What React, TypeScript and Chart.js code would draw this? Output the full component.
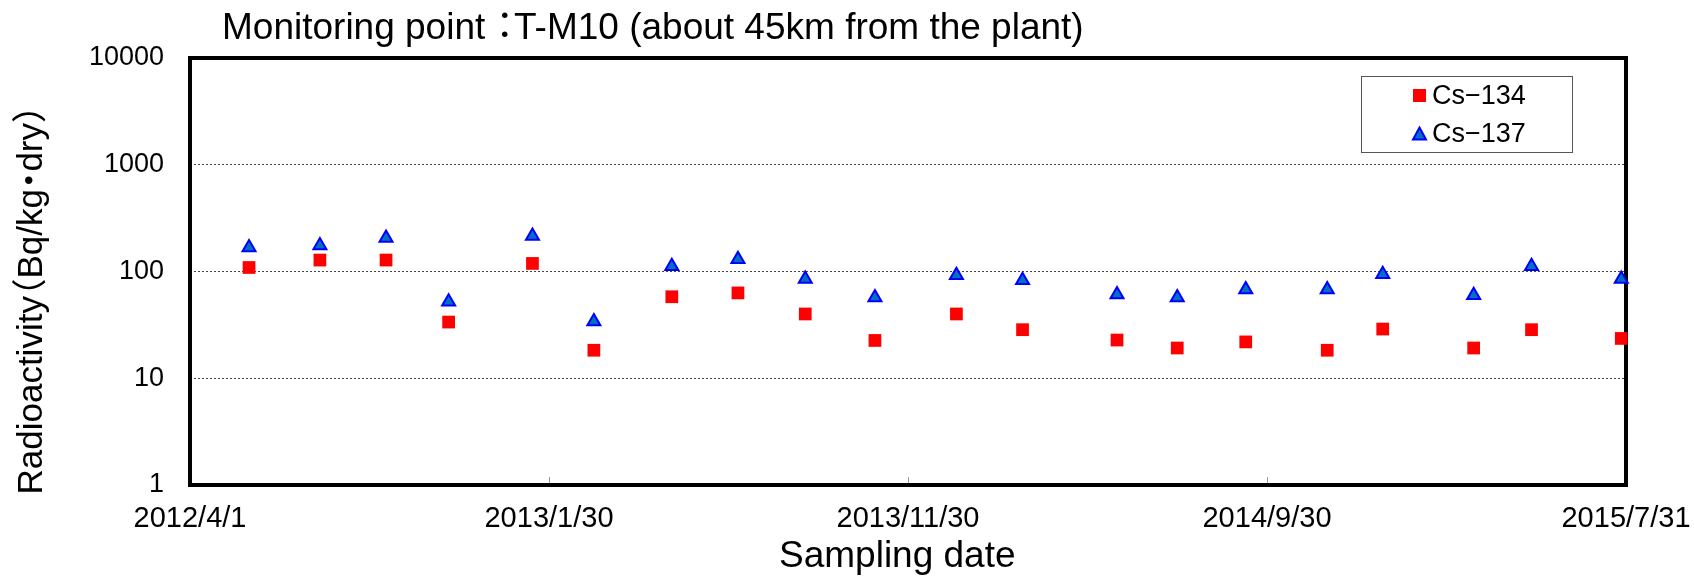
import React, { useEffect, useRef } from "react";
import { Chart, registerables } from "chart.js";

Chart.register(...registerables);

// ---- data ----
const chartTitle = "Monitoring point ：T-M10 (about 45km from the plant)";
const yAxisTitle = "Radioactivity（Bq/kg・dry）";
const xAxisTitle = "Sampling date";
const seriesLabels = ["Cs−134", "Cs−137"];

const xTickDates = ["2012/4/1", "2013/1/30", "2013/11/30", "2014/9/30", "2015/7/31"];
const yTickValues = [1, 10, 100, 1000, 10000];

const samplingDates = [
  "2012/5/21", "2012/7/20", "2012/9/14", "2012/11/6", "2013/1/16",
  "2013/3/9", "2013/5/14", "2013/7/9", "2013/9/4", "2013/11/2",
  "2014/1/10", "2014/3/7", "2014/5/26", "2014/7/16", "2014/9/12",
  "2014/11/20", "2015/1/6", "2015/3/24", "2015/5/12", "2015/7/27",
];
const cs134 = [109, 128, 128, 33.6, 119, 18.3, 58, 63, 40, 22.6, 40, 28.5, 22.8, 19.2, 21.9, 18.3, 28.9, 19.2, 28.5, 23.6];
const cs137 = [168, 175, 206, 52, 215, 34, 112, 130, 85, 57, 92, 83, 61, 57, 68, 68, 94, 60, 112, 85];

// ---- helpers ----
const FONT = "'Liberation Sans', Arial, 'Noto Sans CJK JP', sans-serif";
const W = 1694;
const H = 578;

function dayOffset(d: string): number {
  const [y, m, dd] = d.split("/").map(Number);
  const [y0, m0, d0] = xTickDates[0].split("/").map(Number);
  return Math.round((Date.UTC(y, m - 1, dd) - Date.UTC(y0, m0 - 1, d0)) / 86400000);
}

// draws text with proportional (half-width) spacing for full-width punctuation
function drawCompact(ctx: CanvasRenderingContext2D, text: string, x: number, y: number, size: number, align: "left" | "center") {
  type Piece = { s: string; wide: boolean };
  const pieces: Piece[] = [];
  for (const ch of text) {
    const wide = ch.charCodeAt(0) >= 0x3000;
    const last = pieces[pieces.length - 1];
    if (!wide && last && !last.wide) last.s += ch;
    else pieces.push({ s: ch, wide });
  }
  const adv = (p: Piece) => (p.wide ? 0.5 * size : ctx.measureText(p.s).width);
  const total = pieces.reduce((a, p) => a + adv(p), 0);
  let cx = align === "center" ? x - total / 2 : x;
  const prevAlign = ctx.textAlign;
  ctx.textAlign = "left";
  pieces.forEach((p) => {
    if (p.wide) {
      const shift = p.s === "（" ? -0.5 : p.s === "）" ? 0 : -0.25;
      ctx.fillText(p.s, cx + shift * size, y);
    } else {
      ctx.fillText(p.s, cx, y);
    }
    cx += adv(p);
  });
  ctx.textAlign = prevAlign;
}

const decorPlugin = {
  id: "decor",
  beforeDatasetsDraw(chart: any) {
    const { ctx, chartArea } = chart;
    const xs = chart.scales.x;
    ctx.save();
    // inner tick marks on the bottom axis
    ctx.strokeStyle = "#999";
    ctx.lineWidth = 1;
    xs.ticks.forEach((t: any, i: number) => {
      if (i === 0 || i === xs.ticks.length - 1) return;
      const px = Math.round(xs.getPixelForValue(t.value)) + 0.5;
      ctx.beginPath();
      ctx.moveTo(px, chartArea.bottom);
      ctx.lineTo(px, chartArea.bottom - 8);
      ctx.stroke();
    });
    // plot border
    ctx.strokeStyle = "#000";
    ctx.lineWidth = 4;
    ctx.strokeRect(chartArea.left, chartArea.top, chartArea.right - chartArea.left, chartArea.bottom - chartArea.top);
    ctx.restore();
  },
  afterDraw(chart: any) {
    const { ctx } = chart;
    ctx.save();
    ctx.fillStyle = "#000";
    ctx.textBaseline = "alphabetic";
    // title
    ctx.font = `37px ${FONT}`;
    drawCompact(ctx, chartTitle, 222, 39, 37, "left");
    // x title
    ctx.font = `37px ${FONT}`;
    ctx.textAlign = "left";
    ctx.fillText(xAxisTitle, 779, 567);
    // y title
    ctx.save();
    ctx.translate(32, 300);
    ctx.rotate(-Math.PI / 2);
    ctx.textBaseline = "middle";
    ctx.font = `35px ${FONT}`;
    drawCompact(ctx, yAxisTitle, 0, 0, 35, "center");
    ctx.restore();
    // legend
    ctx.strokeStyle = "#555";
    ctx.lineWidth = 1;
    ctx.strokeRect(1361.5, 76.5, 211, 76);
    const rows = [95.5, 133.5];
    chart.data.datasets.forEach((ds: any, i: number) => {
      const cy = rows[i];
      ctx.fillStyle = ds.backgroundColor;
      ctx.strokeStyle = ds.borderColor;
      if (ds.pointStyle === "rect") {
        ctx.fillRect(1413, cy - 6.5, 13, 13);
      } else {
        ctx.lineWidth = 2;
        ctx.beginPath();
        ctx.moveTo(1419.5, cy - 6);
        ctx.lineTo(1426, cy + 6);
        ctx.lineTo(1413, cy + 6);
        ctx.closePath();
        ctx.fill();
        ctx.stroke();
      }
      ctx.fillStyle = "#000";
      ctx.font = `27px ${FONT}`;
      ctx.textAlign = "left";
      ctx.textBaseline = "middle";
      ctx.fillText(ds.label, 1432, cy + 1);
    });
    ctx.restore();
  },
};

export default function App() {
  const canvasRef = useRef<HTMLCanvasElement | null>(null);

  useEffect(() => {
    const canvas = canvasRef.current;
    if (!canvas) return;
    const xs = samplingDates.map(dayOffset);
    const chart = new Chart(canvas, {
      type: "scatter",
      data: {
        datasets: [
          {
            label: seriesLabels[0],
            data: xs.map((x, i) => ({ x, y: cs134[i] })),
            pointStyle: "rect",
            pointRadius: 9,
            pointHoverRadius: 9,
            backgroundColor: "#FF0000",
            borderColor: "#FF0000",
            borderWidth: 0,
            showLine: false,
            clip: false as any,
          },
          {
            label: seriesLabels[1],
            data: xs.map((x, i) => ({ x, y: cs137[i] })),
            pointStyle: "triangle",
            pointRadius: 7.5,
            pointHoverRadius: 7.5,
            backgroundColor: "#0070C0",
            borderColor: "#0000FF",
            borderWidth: 2,
            showLine: false,
            clip: false as any,
          },
        ],
      },
      options: {
        responsive: false,
        animation: false,
        devicePixelRatio: 1,
        layout: { padding: { left: 0, top: 58, right: 68, bottom: 0 } },
        plugins: {
          legend: { display: false },
          title: { display: false },
          tooltip: { enabled: false },
        },
        scales: {
          x: {
            type: "linear",
            min: 0,
            max: dayOffset(xTickDates[xTickDates.length - 1]),
            afterBuildTicks: (s: any) => {
              s.ticks = xTickDates.map((d) => ({ value: dayOffset(d) }));
            },
            afterFit: (s: any) => {
              s.height = H - 485;
              s.paddingLeft = 0;
              s.paddingRight = 0;
            },
            ticks: {
              autoSkip: false,
              maxRotation: 0,
              minRotation: 0,
              padding: 17,
              color: "#000",
              font: { family: FONT, size: 29 },
              callback: (_v: any, i: number) => xTickDates[i],
            },
            grid: { display: false, drawTicks: false },
            border: { display: false },
          },
          y: {
            type: "logarithmic",
            min: 1,
            max: 10000,
            afterBuildTicks: (s: any) => {
              s.ticks = yTickValues.map((v) => ({ value: v }));
            },
            afterFit: (s: any) => {
              s.width = 190;
              s.paddingTop = 0;
              s.paddingBottom = 0;
            },
            ticks: {
              padding: 26,
              color: "#000",
              font: { family: FONT, size: 27 },
              callback: (v: any) => String(v),
            },
            grid: {
              drawTicks: false,
              lineWidth: 1,
              color: (c: any) =>
                c.tick && (c.tick.value === yTickValues[0] || c.tick.value === yTickValues[yTickValues.length - 1])
                  ? "rgba(0,0,0,0)"
                  : "#444",
            },
            border: { display: false, dash: [2, 2] },
          },
        },
      },
      plugins: [decorPlugin],
    } as any);
    return () => chart.destroy();
  }, []);

  return (
    <div style={{ position: "fixed", left: 0, top: 0, width: W, height: H, background: "#fff" }}>
      <canvas ref={canvasRef} width={W} height={H} style={{ display: "block", width: W, height: H }} />
    </div>
  );
}
